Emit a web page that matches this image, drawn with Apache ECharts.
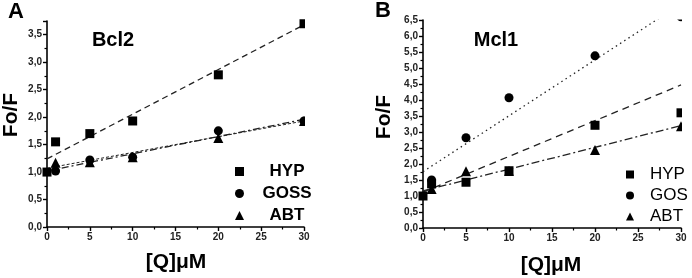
<!DOCTYPE html>
<html><head><meta charset="utf-8">
<script src="https://cdn.jsdelivr.net/npm/echarts@6/dist/echarts.min.js"></script>
<style>html,body{margin:0;padding:0;background:#fff}#c{width:692px;height:278px}</style>
</head><body><div id="c"></div>
<script>
// ---- Data ----
const concA = [0, 1, 5, 10, 20, 30];
const bcl2HYP  = [1.00, 1.55, 1.70, 1.93, 2.77, 3.70];
const bcl2GOSS = [null, 1.02, 1.22, 1.27, 1.75, 1.93];
const bcl2ABT  = [null, 1.17, 1.18, 1.27, 1.62, 1.93];
const concB = [0, 1, 5, 10, 20, 30];
const mcl1HYP = [1.00, 1.38, 1.43, 1.79, 3.21, 3.60];
const mcl1GOS = [null, 1.50, 2.82, 4.07, 5.38, 6.60];
const mcl1ABT = [null, 1.22, 1.77, 1.78, 2.44, 3.18];
// fitted lines: values at x = 0 and x = 30
const fitX = [0, 30];
const bcl2HYPfit  = [1.24, 3.68];
const bcl2GOSSfit = [1.02, 1.96];
const bcl2ABTfit  = [1.07, 1.93];
const mcl1HYPfit = [1.12, 4.47];
const mcl1GOSfit = [1.76, 7.00];
const mcl1ABTfit = [1.16, 3.20];
const legendA = ['HYP', 'GOSS', 'ABT'];
const legendB = ['HYP', 'GOS', 'ABT'];
const panelTitles = ['Bcl2', 'Mcl1'];
const panelLetters = ['A', 'B'];
const yLabel = 'Fo/F';
const xLabel = '[Q]\u03BCM';

const FONT = '"Liberation Sans", Arial, sans-serif';
const pairs = (xs, ys) => xs.map((x, i) => [x, ys[i]]).filter(p => p[1] != null);
const ink = '#000';

function xAxis(gi) {
  return {
    type: 'value', gridIndex: gi, min: 0, max: 30, interval: 5,
    axisLine: {show: true, onZero: false, lineStyle: {color: ink, width: 1.6}},
    axisTick: {show: true, inside: false, length: 4, lineStyle: {color: ink, width: 1.4}},
    minorTick: {show: true, splitNumber: 2, length: 2.5, lineStyle: {color: ink, width: 1.2}},
    splitLine: {show: false},
    axisLabel: {color: '#222', fontFamily: FONT, fontWeight: 'bold', fontSize: 10, margin: 5}
  };
}
function yAxis(gi, max) {
  return {
    type: 'value', gridIndex: gi, min: 0, max: max, interval: 0.5,
    axisLine: {show: true, onZero: false, lineStyle: {color: ink, width: 1.6}},
    axisTick: {show: true, inside: false, length: 4, lineStyle: {color: ink, width: 1.4}},
    minorTick: {show: true, splitNumber: 2, length: 2.5, lineStyle: {color: ink, width: 1.2}},
    splitLine: {show: false},
    axisLabel: {color: '#222', fontFamily: FONT, fontWeight: 'bold', fontSize: 10, margin: 5,
      showMaxLabel: max % 0.5 === 0,
      formatter: v => v.toFixed(1).replace('.', ',')}
  };
}
function scatter(name, sym, xs, ys, gi) {
  return {type: 'scatter', name, symbol: sym, symbolSize: sym === 'triangle' ? 10 : 9,
    xAxisIndex: gi, yAxisIndex: gi, data: pairs(xs, ys), clip: false,
    itemStyle: {color: ink, opacity: 1}, z: 3};
}
function fit(ys, dash, gi, w) {
  return {type: 'line', xAxisIndex: gi, yAxisIndex: gi, data: pairs(fitX, ys),
    symbol: 'none', clip: true, silent: true, legendHoverLink: false,
    lineStyle: {color: '#222', width: w || 1.3, type: dash}, z: 2};
}
function txt(text, x, y, size, weight, rot) {
  return {type: 'text', x, y, rotation: rot || 0, z: 20,
    style: {text, font: `${weight} ${size}px ${FONT}`, fill: ink, textAlign: 'center', textVerticalAlign: 'middle'}};
}
// white masks that trim markers at the plot's right/top edge, as in the original
function mask(x, y, w, h) {
  return {type: 'rect', shape: {x, y, width: w, height: h}, style: {fill: '#fff'}, z: 10, silent: true};
}

const chart = echarts.init(document.getElementById('c'), null, {renderer: 'canvas'});
chart.setOption({
  animation: false,
  grid: [
    {left: 47, top: 21, width: 257, height: 206},
    {left: 423, top: 20, width: 258, height: 208}
  ],
  xAxis: [xAxis(0), xAxis(1)],
  yAxis: [yAxis(0, 3.75), yAxis(1, 6.5)],
  legend: [
    {data: legendA.map((n, i) => ({name: n, icon: ['rect', 'circle', 'triangle'][i]})),
     orient: 'vertical', left: 230, top: 158, itemWidth: 9, itemHeight: 9, itemGap: 5,
     selectedMode: false, z: 30,
     formatter: '{a|{name}}',
     textStyle: {rich: {a: {width: 76, align: 'center', fontFamily: FONT, fontWeight: 'bold', fontSize: 17, lineHeight: 16, color: ink}}}},
    {data: legendB.map((n, i) => ({name: n, icon: ['rect', 'circle', 'triangle'][i]})),
     orient: 'vertical', left: 621, top: 161, itemWidth: 8, itemHeight: 8, itemGap: 4,
     selectedMode: false, z: 30,
     formatter: '{a|{name}}',
     textStyle: {rich: {a: {padding: [0, 0, 0, 11], fontFamily: FONT, fontWeight: 'normal', fontSize: 17, lineHeight: 16, color: ink}}}}
  ],
  series: [
    fit(bcl2HYPfit, [6, 4], 0),
    fit(bcl2GOSSfit, [7, 3, 2, 3], 0),
    fit(bcl2ABTfit, [3, 2], 0, 1),
    scatter('HYP', 'rect', concA, bcl2HYP, 0),
    scatter('GOSS', 'circle', concA, bcl2GOSS, 0),
    scatter('ABT', 'triangle', concA, bcl2ABT, 0),
    fit(mcl1GOSfit, [1.5, 3.5], 1),
    fit(mcl1HYPfit, [7, 5], 1),
    fit(mcl1ABTfit, [8, 3, 2, 3], 1),
    scatter('HYP', 'rect', concB, mcl1HYP, 1),
    scatter('GOS', 'circle', concB, mcl1GOS, 1),
    scatter('ABT', 'triangle', concB, mcl1ABT, 1)
  ],
  graphic: [
    mask(305, 0, 41, 226),
    mask(682, 0, 10, 227),
    mask(424, 0, 268, 19.5),
    txt(panelLetters[0], 16, 12, 22, 'bold'),
    txt(panelLetters[1], 383, 11, 22, 'bold'),
    txt(panelTitles[0], 113, 40, 20, 'bold'),
    txt(panelTitles[1], 496, 40, 20, 'bold'),
    txt(yLabel, 11, 115, 21, 'bold', Math.PI / 2),
    txt(yLabel, 384, 117, 21, 'bold', Math.PI / 2),
    txt(xLabel, 176, 262, 21, 'bold'),
    txt(xLabel, 551, 265, 21, 'bold')
  ]
});
</script></body></html>
